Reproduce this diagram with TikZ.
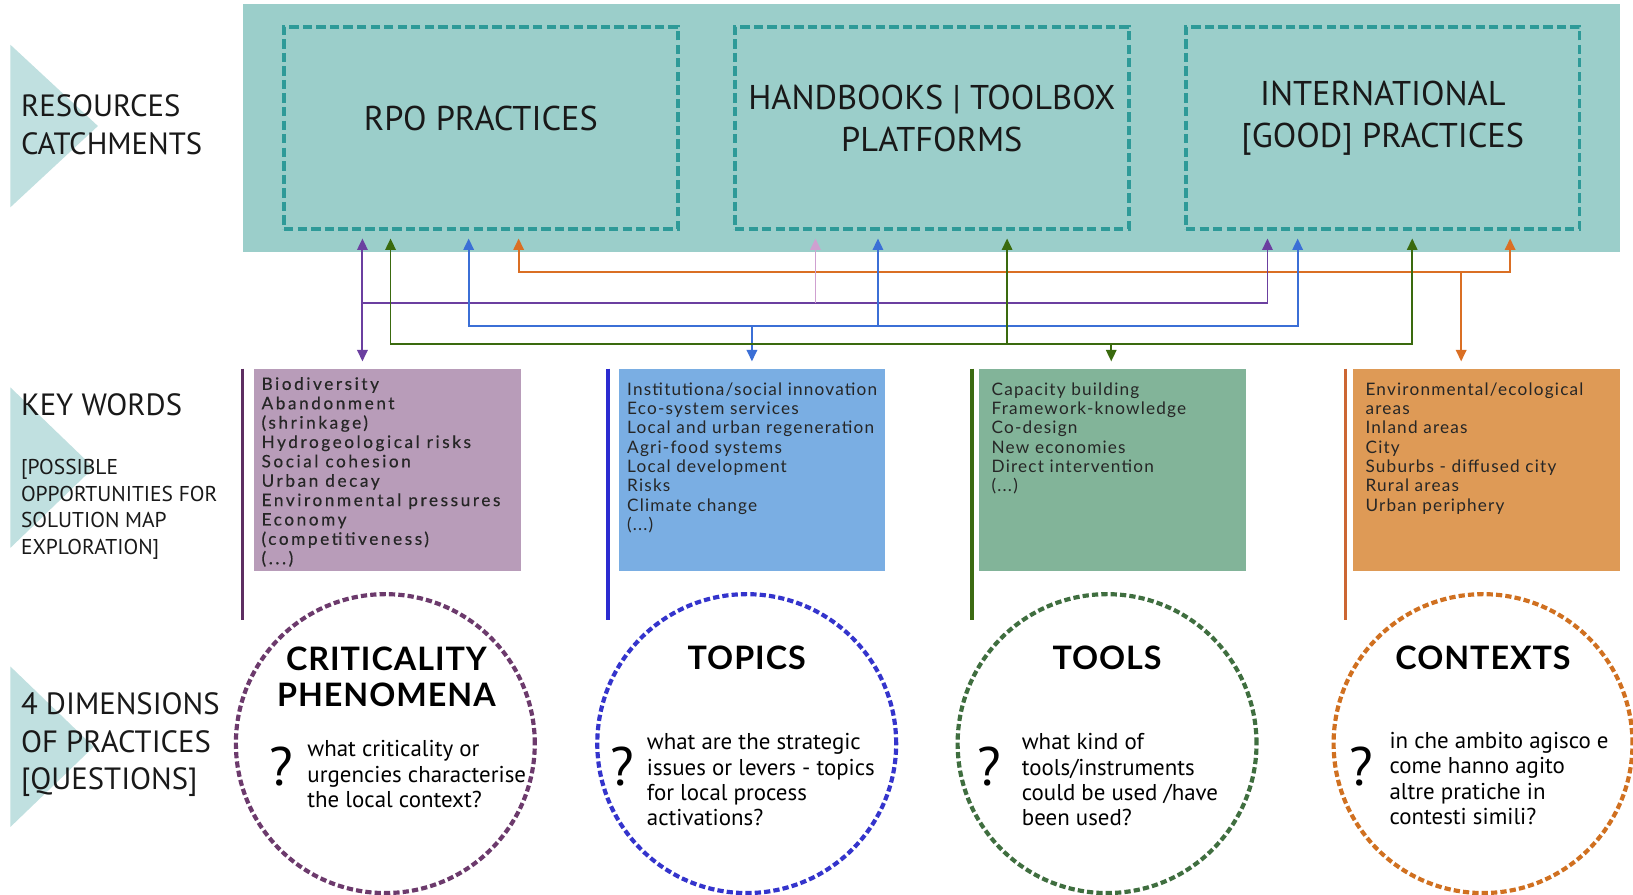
\documentclass[tikz,border=0pt]{standalone}
\usepackage{fontspec}
\setmainfont{PT Sans}
\newfontfamily\kwfont{Lato}[LetterSpace=7.0]
\newfontfamily\kwwidefont{Lato}[LetterSpace=15.0, FakeBold=0.4]
\newfontfamily\headfont{Lato}[LetterSpace=3.0]
\usetikzlibrary{arrows.meta}

\definecolor{bandteal}{RGB}{155,206,202}
\definecolor{dashteal}{RGB}{46,154,152}
\definecolor{tricol}{RGB}{192,224,224}
\definecolor{mauvebox}{RGB}{184,156,185}
\definecolor{bluebox}{RGB}{122,174,227}
\definecolor{greenbox}{RGB}{130,180,153}
\definecolor{orangebox}{RGB}{222,154,86}
\definecolor{purpbar}{RGB}{94,46,98}
\definecolor{bluebar}{RGB}{43,43,208}
\definecolor{greenbar}{RGB}{60,107,18}
\definecolor{orangebar}{RGB}{204,102,51}
\definecolor{purpring}{RGB}{108,58,108}
\definecolor{bluering}{RGB}{52,52,204}
\definecolor{greenring}{RGB}{63,110,63}
\definecolor{orangering}{RGB}{208,112,32}
\definecolor{purpln}{RGB}{107,63,160}
\definecolor{greenln}{RGB}{58,106,14}
\definecolor{blueln}{RGB}{59,111,214}
\definecolor{orangeln}{RGB}{218,111,36}
\definecolor{pinkln}{RGB}{207,160,208}

\tikzset{
  sidelabel/.style={anchor=west, align=left, inner sep=0pt, text=black!90, font=\fontsize{29.5}{36}\selectfont},
  panel/.style={draw=dashteal, line width=3.5pt, dash pattern=on 9pt off 4pt, minimum width=378pt, minimum height=194pt, anchor=north west, inner sep=0pt},
  paneltext/.style={align=center, text=black!90, font=\fontsize{33}{40}\selectfont},
  kwbox/.style={minimum width=256pt, minimum height=194pt, anchor=north west, inner sep=0pt},
  kwtext/.style={anchor=north west, align=left, inner sep=0pt, text=black!85, font=\kwfont\fontsize{16.5}{18.6}\selectfont},
  bar/.style={line width=3.5pt},
  ring/.style={circle, minimum size=287pt, line width=4pt, dash pattern=on 6pt off 3pt, inner sep=0pt},
  dimtitle/.style={align=center, font=\headfont\bfseries\fontsize{31}{35}\selectfont},
  quest/.style={anchor=north west, align=left, inner sep=0pt, font=\fontsize{22}{24.4}\selectfont},
  qmark/.style={inner sep=0pt, font=\fontsize{52}{52}\selectfont},
  link/.style={line width=1.8pt, -{Triangle[width=10pt,length=11pt]}},
  twoway/.style={line width=1.8pt, {Triangle[width=10pt,length=11pt]}-{Triangle[width=10pt,length=11pt]}},
}

\begin{document}
\begin{tikzpicture}[x=1pt,y=-1pt]

        \fill[white] (0,0) rectangle (1568,859);
        \useasboundingbox (0,0) rectangle (1568,859);

        % side triangles
        \fill[tricol] (10,43) -- (94,121) -- (10,199) -- cycle;
        \fill[tricol] (10,372) -- (90,449) -- (10,526) -- cycle;
        \fill[tricol] (10,640) -- (90,717) -- (10,794) -- cycle;

        \node[sidelabel] (res) at (20,120) {RESOURCES\\CATCHMENTS};
        \node[sidelabel] (kw) at (20,389) {KEY WORDS};
        \node[sidelabel, font=\fontsize{20.6}{25.7}\selectfont] (poss) at (20,489) {{[POSSIBLE}\\OPPORTUNITIES FOR\\SOLUTION MAP\\EXPLORATION{]}};
        \node[sidelabel] (dim) at (20,715) {4 DIMENSIONS\\OF PRACTICES\\{[QUESTIONS]}};

        % resources band
        \node[fill=bandteal, minimum width=1322pt, minimum height=238pt, anchor=north west, inner sep=0pt] (band) at (233,4) {};
        \node[panel] (rpo) at (271,24) {};
        \node[panel] (hand) at (704,24) {};
        \node[panel] (intl) at (1137,24) {};
        \node[paneltext] at ([yshift=9pt]rpo.center) {RPO PRACTICES};
        \node[paneltext] at ([yshift=9pt]hand.center) {HANDBOOKS | TOOLBOX\\PLATFORMS};
        \node[paneltext] at ([yshift=9pt]intl.center) {INTERNATIONAL\\{[GOOD]} PRACTICES};

        % key word boxes
        \node[kwbox, fill=mauvebox] (kw1) at (244,354) {};
        \node[kwbox, fill=bluebox] (kw2) at (594,354) {};
        \node[kwbox, fill=greenbox] (kw3) at (940,354) {};
        \node[kwbox, fill=orangebox] (kw4) at (1299,354) {};
        \draw[bar, purpbar] (233,354) -- (233,595);
        \draw[bar, bluebar] (584,354) -- (584,595);
        \draw[bar, greenbar] (933,354) -- (933,595);
        \draw[bar, orangebar] (1292,354) -- (1292,595);

        \node[kwtext, font=\kwwidefont\fontsize{16.5}{18.6}\selectfont] (kt1) at (251,362) {Biodiversity\\Abandonment\\(shrinkage)\\Hydrogeological risks\\Social cohesion\\Urban decay\\Environmental pressures\\Economy\\(competitiveness)\\(...)};
        \node[kwtext] (kt2) at (602,367) {Institutiona/social innovation\\Eco-system services\\Local and urban regeneration\\Agri-food systems\\Local development\\Risks\\Climate change\\(...)};
        \node[kwtext] (kt3) at (952,367) {Capacity building\\Framework-knowledge\\Co-design\\New economies\\Direct intervention\\(...)};
        \node[kwtext] (kt4) at (1311,367) {Environmental/ecological\\areas\\Inland areas\\City\\Suburbs - diffused city\\Rural areas\\Urban periphery};

        % dimensions
        \node[ring, draw=purpring] (crit) at (370,714) {};
        \node[ring, draw=bluering] (top) at (717,714) {};
        \node[ring, draw=greenring] (tool) at (1063,714) {};
        \node[ring, draw=orangering] (ctx) at (1424,714) {};

        \node[dimtitle] at (371,650) {CRITICALITY\\PHENOMENA};
        \node[dimtitle] at (717,632) {TOPICS};
        \node[dimtitle] at (1063,632) {TOOLS};
        \node[dimtitle] at (1424,632) {CONTEXTS};

        \node[qmark] at (270,736) {?};
        \node[qmark] at (598,736) {?};
        \node[qmark] at (950,736) {?};
        \node[qmark] at (1307,736) {?};
        \node[quest] at (295,711) {what criticality or\\urgencies characterise\\the local context?};
        \node[quest] at (621,704) {what are the strategic\\issues or levers - topics\\for local process\\activations?};
        \node[quest] at (981,704) {what kind of\\tools/instruments\\could be used /have\\been used?};
        \node[quest] at (1334,703) {in che ambito agisco e\\come hanno agito\\altre pratiche in\\contesti simili?};

        % links between key words and resources
        \coordinate (pA) at (348,229);
        \coordinate (pB) at (1217,229);
        \coordinate (pk) at (783,229);
        \coordinate (pJ) at (348,291);
        \coordinate (pD) at (348,347);
        \coordinate (bA) at (450,229);
        \coordinate (bB) at (843,229);
        \coordinate (bC) at (1246,229);
        \coordinate (bJ) at (722,313);
        \coordinate (bD) at (722,347);
        \coordinate (gA) at (375,229);
        \coordinate (gB) at (967,229);
        \coordinate (gC) at (1356,229);
        \coordinate (gJ) at (1067,330);
        \coordinate (gD) at (1067,347);
        \coordinate (oA) at (498,229);
        \coordinate (oB) at (1450,229);
        \coordinate (oJ) at (1403,261);
        \coordinate (oD) at (1403,347);

        \draw[twoway, orangeln] (oA) |- (oJ) -| (oB);
        \draw[link, orangeln] (oJ) -- (oD);
        \draw[twoway, purpln] (pA) -- (pD);
        \draw[link, purpln] (pJ) -| (pB);
        \draw[link, pinkln] (pk |- pJ) -- (pk);
        \draw[twoway, blueln] (bA) |- (bJ) -| (bC);
        \draw[link, blueln] (bJ) -- (bD);
        \draw[link, blueln] (bB |- bJ) -- (bB);
        \draw[twoway, greenln] (gA) |- (gJ) -| (gC);
        \draw[link, greenln] (gJ) -- (gD);
        \draw[link, greenln] (gB |- gJ) -- (gB);

\end{tikzpicture}
\end{document}
